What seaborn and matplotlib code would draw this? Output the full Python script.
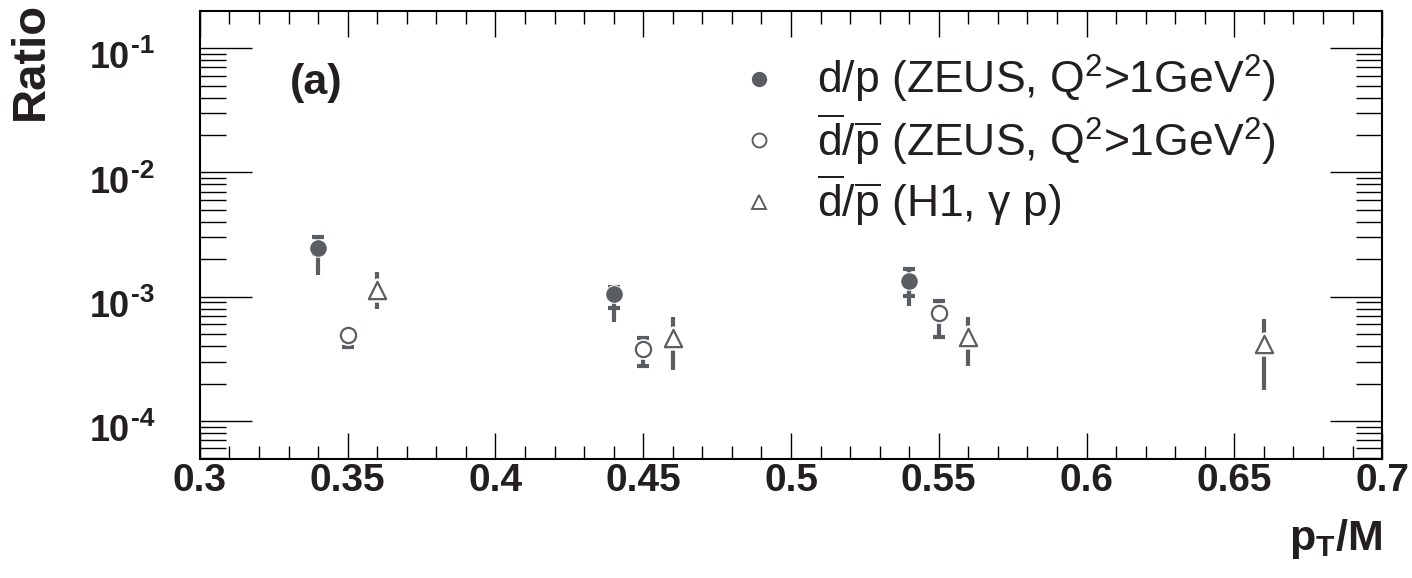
import numpy as np
import pandas as pd
import matplotlib
matplotlib.use("Agg")
import matplotlib.pyplot as plt
import seaborn as sns
from matplotlib.lines import Line2D
from matplotlib.ticker import FixedLocator, MultipleLocator, LogLocator, NullFormatter

# d/p (ZEUS) - filled circles
dp_x = [0.34, 0.44, 0.54]
dp_y = [2.47e-3, 1.06e-3, 1.34e-3]
dp_stat_lo = [2.2e-3, 8.1e-4, 1.02e-3]
dp_stat_hi = [3.0e-3, 1.2e-3, 1.67e-3]
dp_tot_lo = [1.5e-3, 6.3e-4, 8.4e-4]
dp_tot_hi = [3.0e-3, 1.2e-3, 1.67e-3]

# dbar/pbar (ZEUS) - open circles
dbar_x = [0.35, 0.45, 0.55]
dbar_y = [4.9e-4, 3.78e-4, 7.44e-4]
dbar_lo = [3.9e-4, 2.79e-4, 4.73e-4]
dbar_hi = [5.4e-4, 4.65e-4, 9.2e-4]

# dbar/pbar (H1, gamma p) - open triangles
h1_x = [0.36, 0.46, 0.56, 0.66]
h1_y = [1.14e-3, 4.68e-4, 4.72e-4, 4.13e-4]
h1_lo = [7.96e-4, 2.59e-4, 2.79e-4, 1.79e-4]
h1_hi = [1.57e-3, 6.86e-4, 6.86e-4, 6.61e-4]

labels = [r"d/p (ZEUS, Q$^2$>1GeV$^2$)",
          r"$\overline{\mathrm{d}}$/$\overline{\mathrm{p}}$ (ZEUS, Q$^2$>1GeV$^2$)",
          r"$\overline{\mathrm{d}}$/$\overline{\mathrm{p}}$ (H1, γ p)"]

xticks = [0.3, 0.35, 0.4, 0.45, 0.5, 0.55, 0.6, 0.65, 0.7]
xticklabels = ["0.3", "0.35", "0.4", "0.45", "0.5", "0.55", "0.6", "0.65", "0.7"]
yticks = [1e-4, 1e-3, 1e-2, 1e-1]
ytick_base = ["10", "10", "10", "10"]
ytick_exp = ["-4", "-3", "-2", "-1"]

sns.set_style("ticks")
plt.rcParams["font.family"] = ["Liberation Sans", "DejaVu Sans"]
plt.rcParams["mathtext.fontset"] = "custom"
plt.rcParams["mathtext.rm"] = "Liberation Sans"
plt.rcParams["mathtext.it"] = "Liberation Sans:italic"
plt.rcParams["mathtext.bf"] = "Liberation Sans:bold"

gray = "#5a5e62"
ink = "#231f20"

fig = plt.figure(figsize=(14.12, 5.78), dpi=100)
ax = fig.add_axes([0.1416, 0.2059, 0.8372, 0.7751])

dp = pd.DataFrame({"x": dp_x, "y": dp_y})
dbar = pd.DataFrame({"x": dbar_x, "y": dbar_y})
h1 = pd.DataFrame({"x": h1_x, "y": h1_y})

# total errors (no caps)
ax.errorbar(dp_x, dp_y, yerr=[np.array(dp_y) - np.array(dp_tot_lo), np.array(dp_tot_hi) - np.array(dp_y)],
            fmt="none", ecolor=gray, elinewidth=3, capsize=0, zorder=1)
ax.errorbar(h1_x, h1_y, yerr=[np.array(h1_y) - np.array(h1_lo), np.array(h1_hi) - np.array(h1_y)],
            fmt="none", ecolor=gray, elinewidth=3, capsize=0, zorder=1)
# stat errors with caps
ax.errorbar(dp_x, dp_y, yerr=[np.array(dp_y) - np.array(dp_stat_lo), np.array(dp_stat_hi) - np.array(dp_y)],
            fmt="none", ecolor=gray, elinewidth=3, capsize=4.5, capthick=3, zorder=1)
ax.errorbar(dbar_x, dbar_y, yerr=[np.array(dbar_y) - np.array(dbar_lo), np.array(dbar_hi) - np.array(dbar_y)],
            fmt="none", ecolor=gray, elinewidth=3, capsize=4.5, capthick=3, zorder=1)

# white halo to leave a gap between markers and bars
sns.scatterplot(data=dp, x="x", y="y", ax=ax, marker="o", s=120, color="white", edgecolor="white", linewidth=2.5, zorder=3)
sns.scatterplot(data=dbar, x="x", y="y", ax=ax, marker="o", s=120, color="white", edgecolor="white", linewidth=4, zorder=3)
sns.scatterplot(data=h1, x="x", y="y", ax=ax, marker="^", s=155, color="white", edgecolor="white", linewidth=5, zorder=3)

sns.scatterplot(data=dp, x="x", y="y", ax=ax, marker="o", s=120, color=gray, edgecolor=gray, linewidth=1, zorder=4)
sns.scatterplot(data=dbar, x="x", y="y", ax=ax, marker="o", s=120, color="white", edgecolor=gray, linewidth=1.6, zorder=4)
sns.scatterplot(data=h1, x="x", y="y", ax=ax, marker="^", s=155, color="white", edgecolor=gray, linewidth=1.6, zorder=4)

ax.set_yscale("log")
ax.set_xlim(0.3, 0.7)
ax.set_ylim(4.94e-5, 0.199)

ax.xaxis.set_major_locator(FixedLocator(xticks))
ax.set_xticklabels(xticklabels)
ax.xaxis.set_minor_locator(MultipleLocator(0.01))
ax.yaxis.set_major_locator(FixedLocator(yticks))
ax.yaxis.set_minor_locator(LogLocator(base=10, subs=np.arange(2, 10)))
ax.yaxis.set_minor_formatter(NullFormatter())

ax.tick_params(which="both", direction="in", top=True, right=True, color="black", width=1, labelcolor=ink)
ax.tick_params(axis="x", which="major", length=18.7, labelsize=28, pad=3)
ax.tick_params(axis="x", which="minor", length=9.4)
ax.tick_params(axis="y", which="major", length=37.4, labelleft=False)
ax.tick_params(axis="y", which="minor", length=18.7)
for lab in ax.get_xticklabels():
    lab.set_fontweight("bold")
for sp in ax.spines.values():
    sp.set_linewidth(1.5)
    sp.set_color("black")

# y tick labels 10^n drawn as base + small exponent
ytrans = ax.get_yaxis_transform()
for yt, base, ex in zip(yticks, ytick_base, ytick_exp):
    ax.annotate(base, xy=(0, yt), xycoords=ytrans, xytext=(-50.4, -14.6), textcoords="offset points",
                ha="right", va="baseline", fontsize=26, fontweight="bold", color=ink, annotation_clip=False)
    ax.annotate(ex, xy=(0, yt), xycoords=ytrans, xytext=(-49.6, -3.8), textcoords="offset points",
                ha="left", va="baseline", fontsize=19, fontweight="bold", color=ink, annotation_clip=False)

ax.set_xlabel(r"$\mathbf{p_{T}}$/M", fontsize=31, fontweight="bold", color=ink, loc="right")
ax.xaxis.set_label_coords(1.0, -0.13)
ax.set_ylabel("Ratio", fontsize=34, fontweight="bold", color=ink, loc="top")
ax.yaxis.set_label_coords(-0.124, 1.02)

ax.text(0.076, 0.84, "(a)", transform=ax.transAxes, fontsize=31, fontweight="bold", color=ink, va="center", ha="left")

handles = [Line2D([], [], linestyle="none", marker="o", markersize=10, markerfacecolor=gray, markeredgecolor=gray),
           Line2D([], [], linestyle="none", marker="o", markersize=10, markerfacecolor="white", markeredgecolor=gray, markeredgewidth=1.4),
           Line2D([], [], linestyle="none", marker="^", markersize=10.5, markerfacecolor="white", markeredgecolor=gray, markeredgewidth=1.4)]
leg = ax.legend(handles, labels, loc="upper left", bbox_to_anchor=(0.428, 0.975), frameon=False,
                fontsize=32, handletextpad=0.79, labelspacing=0.12, borderaxespad=0.3, handlelength=1.0)
for t in leg.get_texts():
    t.set_color(ink)

fig.savefig("out.png", dpi=100)
